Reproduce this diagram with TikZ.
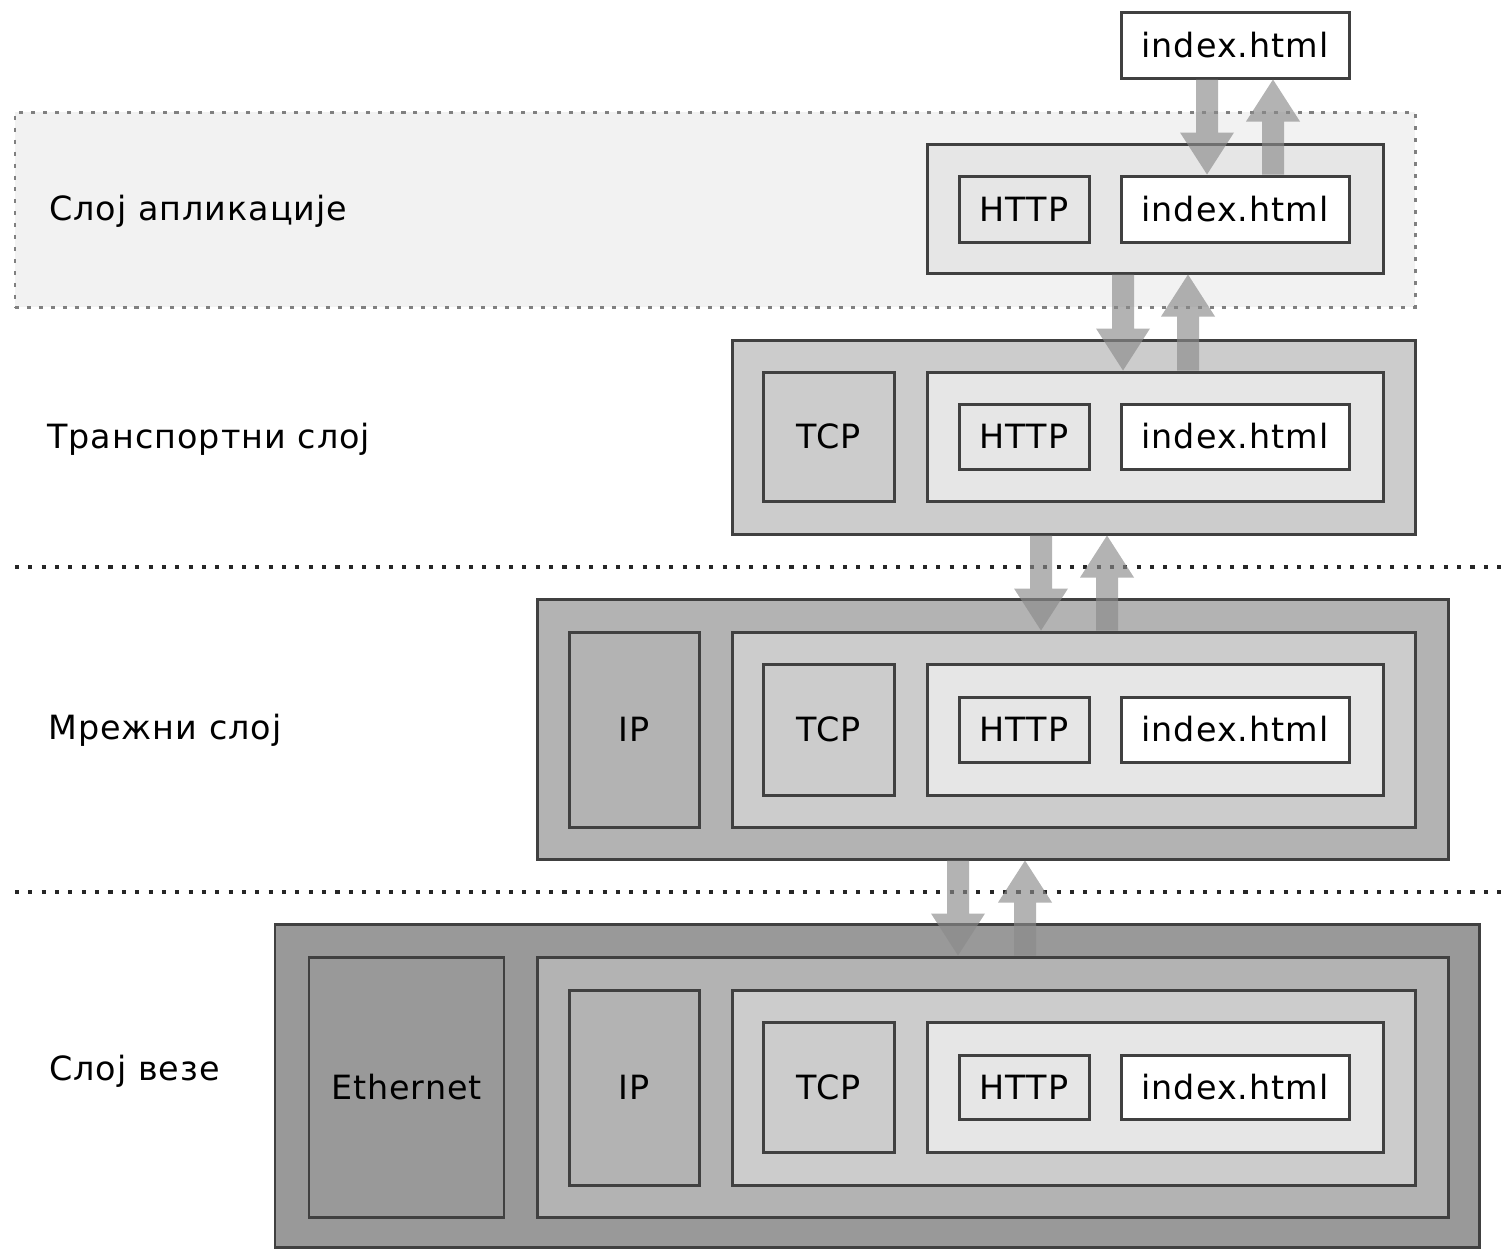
\documentclass[tikz,border=0pt]{standalone}
\usepackage{fontspec}
\setmainfont[LetterSpace=3]{DejaVu Sans}
\usetikzlibrary{fit,calc}

\definecolor{zonegray}{HTML}{F2F2F2}
\definecolor{appgray}{HTML}{E6E6E6}
\definecolor{tcpgray}{HTML}{CCCCCC}
\definecolor{ipgray}{HTML}{B3B3B3}
\definecolor{ethgray}{HTML}{999999}
\definecolor{edgegray}{HTML}{404040}

\tikzset{
  pkt/.style={draw=edgegray,line width=1.7pt,inner sep=0pt},
  pipe/.style={fill=black!46,opacity=0.65},
  sep/.style={draw=black!85,line width=2pt,dash pattern=on 2.3pt off 5.3pt},
  lbl/.style={anchor=base west,inner sep=0pt}
}

\newcommand{\pipedown}[3]{% x, upper node, lower node
  \coordinate (pt) at (#1,0 |- #2.south);
  \coordinate (pb) at (#1,0 |- #3.north);
  \fill[pipe] ($(pt)+(-11,0)$) -- ($(pb)+(-11,-42)$) -- ($(pb)+(-27,-42)$) -- (pb)
    -- ($(pb)+(27,-42)$) -- ($(pb)+(11,-42)$) -- ($(pt)+(11,0)$) -- cycle;
}
\newcommand{\pipeup}[3]{% x, upper node, lower node
  \coordinate (pt) at (#1,0 |- #2.south);
  \coordinate (pb) at (#1,0 |- #3.north);
  \fill[pipe] ($(pb)+(-11,0)$) -- ($(pt)+(-11,42)$) -- ($(pt)+(-27,42)$) -- (pt)
    -- ($(pt)+(27,42)$) -- ($(pt)+(11,42)$) -- ($(pb)+(11,0)$) -- cycle;
}

\begin{document}
\begin{tikzpicture}[x=0.02cm,y=-0.02cm,font=\fontsize{19}{23}\selectfont]
\useasboundingbox (0,0) rectangle (1501,1249);

% application zone and separators
\node[fit={(15,112) (1415,307)},inner sep=0pt,fill=zonegray,draw=black!50,line width=1.7pt,dash pattern=on 2.3pt off 4.5pt] (zone) {};
\coordinate (s1a) at (15,567);
\coordinate (s1b) at (1501,567);
\coordinate (s2a) at (15,892);
\coordinate (s2b) at (1501,892);
\draw[sep] (s1a) -- (s1b);
\draw[sep] (s2a) -- (s2b);

% layer names
\node[lbl] (napp) at (49,220) {Слој апликације};
\node[lbl] (ntr) at (47,448) {Транспортни слој};
\node[lbl] (nnet) at (48,739) {Мрежни слој};
\node[lbl] (nlink) at (49,1080) {Слој везе};

% file
\node[pkt,fill=white,fit={(1121,12) (1349,78)},label=center:index.html] (I0) {};

% application layer
\node[pkt,fill=appgray,fit={(927,144) (1383,273)}] (A1) {};
\node[pkt,fill=appgray,fit={(959,176) (1089,242)},label=center:HTTP] (H1) {};
\node[pkt,fill=white,fit={(1121,176) (1349,242)},label=center:index.html] (I1) {};

% transport layer
\node[pkt,fill=tcpgray,fit={(732,340) (1415,534)}] (T2) {};
\node[pkt,fill=tcpgray,fit={(763,372) (894,501)},label=center:TCP] (C2) {};
\node[pkt,fill=appgray,fit={(927,372) (1383,501)}] (A2) {};
\node[pkt,fill=appgray,fit={(959,404) (1089,469)},label=center:HTTP] (H2) {};
\node[pkt,fill=white,fit={(1121,404) (1349,469)},label=center:index.html] (I2) {};

% network layer
\node[pkt,fill=ipgray,fit={(537,599) (1448,859)}] (N3) {};
\node[pkt,fill=ipgray,fit={(569,632) (699,827)},label=center:IP] (P3) {};
\node[pkt,fill=tcpgray,fit={(732,632) (1415,827)}] (T3) {};
\node[pkt,fill=tcpgray,fit={(763,664) (894,795)},label=center:TCP] (C3) {};
\node[pkt,fill=appgray,fit={(927,664) (1383,795)}] (A3) {};
\node[pkt,fill=appgray,fit={(959,697) (1089,762)},label=center:HTTP] (H3) {};
\node[pkt,fill=white,fit={(1121,697) (1349,762)},label=center:index.html] (I3) {};

% link layer
\node[pkt,fill=ethgray,fit={(275,924) (1479,1247)}] (L4) {};
\node[pkt,fill=ethgray,fit={(309,957) (504,1217)},label=center:Ethernet] (E4) {};
\node[pkt,fill=ipgray,fit={(537,957) (1448,1217)}] (N4) {};
\node[pkt,fill=ipgray,fit={(569,990) (699,1185)},label=center:IP] (P4) {};
\node[pkt,fill=tcpgray,fit={(732,990) (1415,1185)}] (T4) {};
\node[pkt,fill=tcpgray,fit={(763,1022) (894,1152)},label=center:TCP] (C4) {};
\node[pkt,fill=appgray,fit={(927,1022) (1383,1152)}] (A4) {};
\node[pkt,fill=appgray,fit={(959,1055) (1089,1119)},label=center:HTTP] (H4) {};
\node[pkt,fill=white,fit={(1121,1055) (1349,1119)},label=center:index.html] (I4) {};

% encapsulation arrows
\pipedown{1207}{I0}{I1}
\pipeup{1273}{I0}{I1}
\pipedown{1123}{A1}{A2}
\pipeup{1188}{A1}{A2}
\pipedown{1041}{T2}{T3}
\pipeup{1107}{T2}{T3}
\pipedown{958}{N3}{N4}
\pipeup{1025}{N3}{N4}
\end{tikzpicture}
\end{document}
